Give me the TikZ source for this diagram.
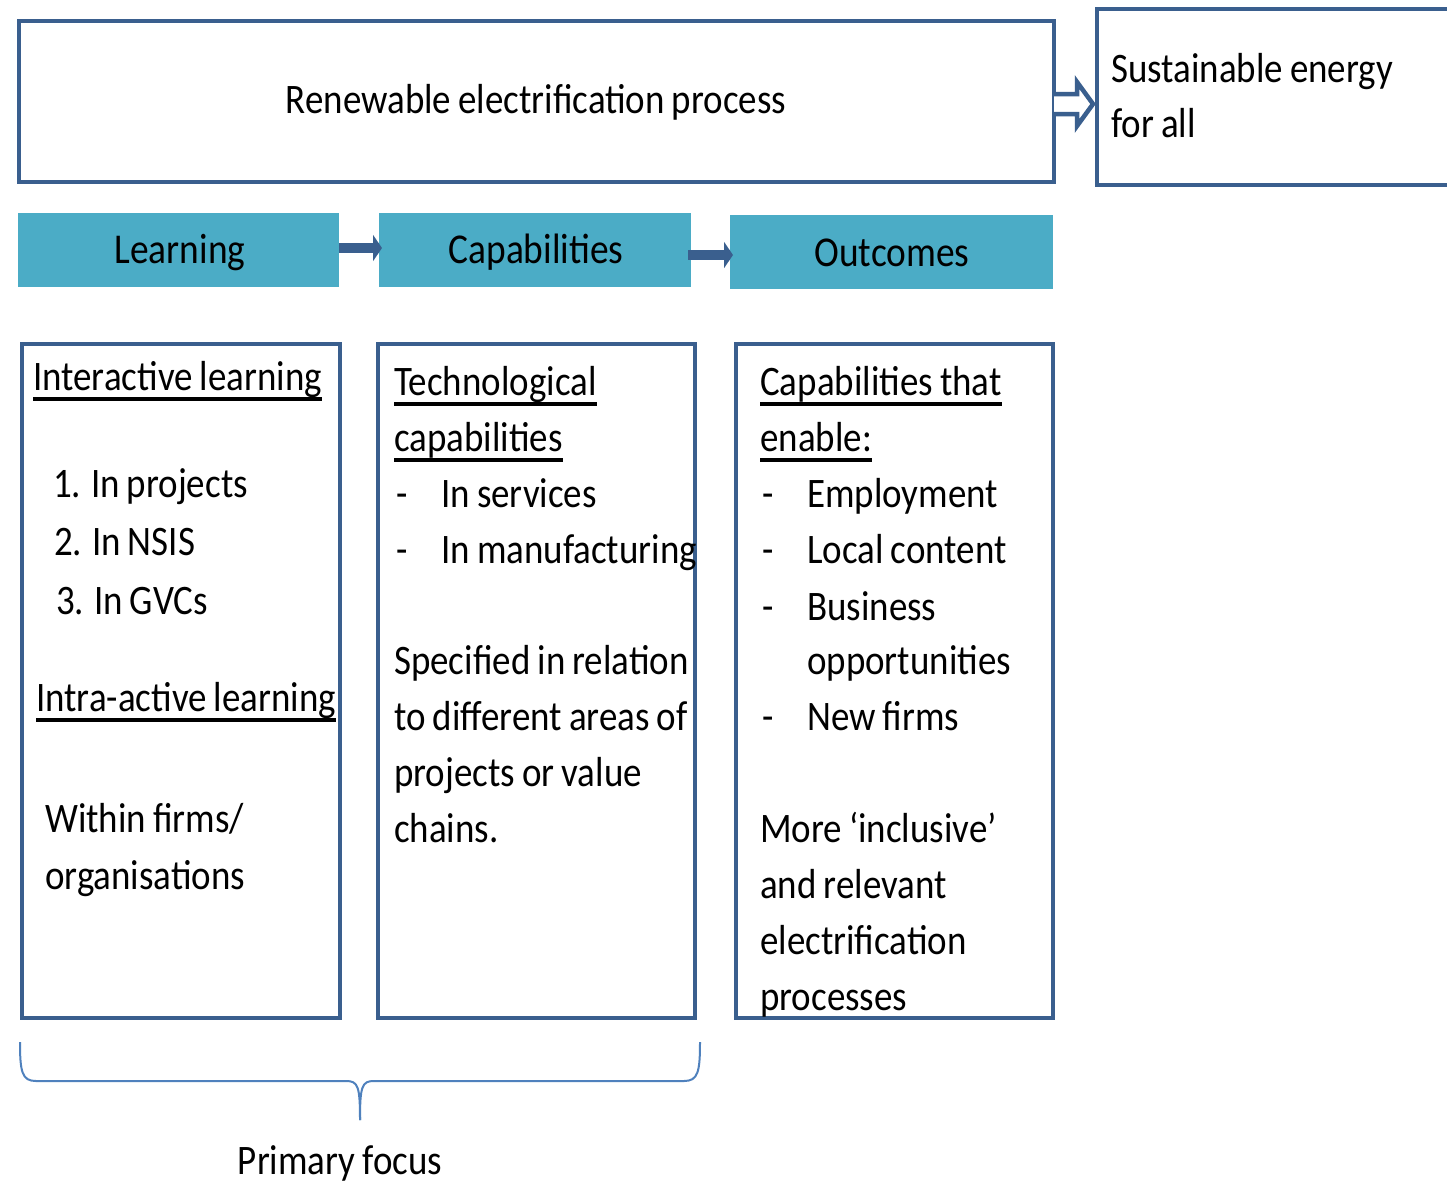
\documentclass[tikz,border=0pt]{standalone}
\usepackage{fontspec}
\setmainfont[FakeStretch=0.88,WordSpace=0.85]{Carlito}
\usetikzlibrary{calc,arrows.meta}
\definecolor{bdr}{HTML}{3A5F8E}
\definecolor{hdr}{HTML}{4BACC6}
\definecolor{brc}{HTML}{4F81BD}
\newcommand\ulx[1]{\setbox0\hbox{#1}\rlap{\rule[-10.5pt]{\wd0}{3.5pt}}\box0}
\tikzset{
  frame/.style={draw=bdr, line width=4pt, inner sep=0pt, outer sep=0pt, anchor=north west},
  hdrbox/.style={fill=hdr, draw=none, inner sep=0pt, outer sep=0pt, anchor=north west},
  txt/.style={anchor=base west, inner sep=0pt, font=\fontsize{42}{50}\selectfont},
  hdrtxt/.style={anchor=base, inner sep=0pt, font=\fontsize{42.5}{52}\selectfont},
  solidarrow/.style={draw=bdr, line width=10pt, -{Triangle[length=9pt,width=26pt]}},
  openarrow/.style={draw=bdr, line width=4.5pt, fill=white, line join=miter},
  bracestyle/.style={draw=brc, line width=2pt}
}
\begin{document}
\begin{tikzpicture}[x=1pt,y=-1pt]
\path[use as bounding box, clip] (0,0) rectangle (1447,1184);
\fill[white] (0,0) rectangle (1447,1184);
% top boxes
\node[frame, minimum width=1035.5pt, minimum height=161pt] (top) at (18.5,21) {};
\node[txt, anchor=base] (toptxt) at (536,113) {Renewable electrification process};
\node[frame, minimum width=400pt, minimum height=176pt] (sus) at (1097,9) {};
\node[txt] (sus1) at (1111,82) {Sustainable energy};
\node[txt] (sus2) at (1111,137) {for all};
\coordinate (oa) at ($(top.east)+(0,2.5)$);
\draw[openarrow] ($(oa)+(0,-10)$) -- ($(oa)+(23,-10)$) -- ($(oa)+(23,-22)$) -- ($(oa)+(39,0)$) -- ($(oa)+(23,22)$) -- ($(oa)+(23,10)$) -- ($(oa)+(0,10)$);
% headers
\node[hdrbox, minimum width=321pt, minimum height=74pt] (learn) at (18,213) {};
\node[hdrbox, minimum width=312pt, minimum height=74pt] (cap) at (379,213) {};
\node[hdrbox, minimum width=323pt, minimum height=74pt] (out) at (730,215) {};
\node[hdrtxt] (learnt) at (180,263) {Learning};
\node[hdrtxt] (capt) at (536,263) {Capabilities};
\node[hdrtxt] (outt) at (892,266) {Outcomes};
\draw[solidarrow] ($(learn.east)+(0,-2)$) -- ($(cap.west)+(3,-2)$);
\draw[solidarrow] ($(cap.east)+(-3,5)$) -- ($(out.west)+(3,3)$);
% content boxes
\node[frame, minimum width=318.5pt, minimum height=674.5pt] (b1) at (21.5,343.5) {};
\node[frame, minimum width=317pt, minimum height=674.5pt] (b2) at (378,343.5) {};
\node[frame, minimum width=317pt, minimum height=674.5pt] (b3) at (736,343.5) {};
% box 1
\node[txt] (t11) at (33,390) {\ulx{Interactive learning}};
\node[txt] (t12) at (53,497) {1. In projects};
\node[txt] (t13) at (54,555) {2. In NSIS};
\node[txt] (t14) at (56,614) {3. In GVCs};
\node[txt] (t15) at (36,711) {\ulx{Intra-active learning}};
\node[txt] (t16) at (45,832) {Within firms/};
\node[txt] (t17) at (45,889) {organisations};
% box 2
\node[txt] (t21) at (394,395) {\ulx{Technological}};
\node[txt] (t22) at (394,451) {\ulx{capabilities}};
\node[txt] (t23d) at (396,507) {-};
\node[txt] (t23) at (441,507) {In services};
\node[txt] (t24d) at (396,563) {-};
\node[txt] (t24) at (441,563) {In manufacturing};
\node[txt] (t25) at (394,674) {Specified in relation};
\node[txt] (t26) at (394,730) {to different areas of};
\node[txt] (t27) at (394,786) {projects or value};
\node[txt] (t28) at (394,842) {chains.};
% box 3
\node[txt] (t31) at (760,395) {\ulx{Capabilities that}};
\node[txt] (t32) at (760,451) {\ulx{enable:}};
\node[txt] (t33d) at (762,507) {-};
\node[txt] (t33) at (807,507) {Employment};
\node[txt] (t34d) at (762,563) {-};
\node[txt] (t34) at (807,563) {Local content};
\node[txt] (t35d) at (762,620) {-};
\node[txt] (t35) at (807,620) {Business};
\node[txt] (t36) at (807,674) {opportunities};
\node[txt] (t37d) at (762,730) {-};
\node[txt] (t37) at (807,730) {New firms};
\node[txt] (t38) at (760,842) {More ‘inclusive’};
\node[txt] (t39) at (760,898) {and relevant};
\node[txt] (t310) at (760,954) {electrification};
\node[txt] (t311) at (760,1010) {processes};
% brace
\draw[bracestyle] (20,1042) .. controls (20,1072) and (22,1081) .. (36,1081) -- (346,1081) .. controls (358,1081) and (360,1086) .. (360,1120);
\draw[bracestyle] (700,1042) .. controls (700,1072) and (698,1081) .. (684,1081) -- (374,1081) .. controls (362,1081) and (360,1086) .. (360,1120);
\node[txt, anchor=base] (pf) at (340,1174) {Primary focus};
\end{tikzpicture}
\end{document}
